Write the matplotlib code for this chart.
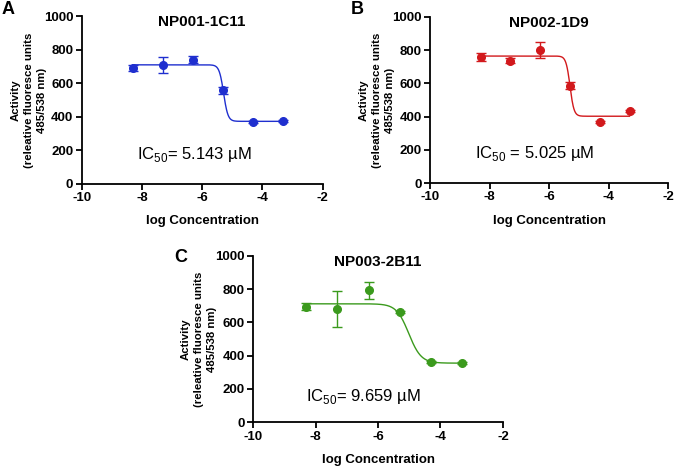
import numpy as np
import matplotlib.pyplot as plt

plt.rcParams['font.family'] = ['Liberation Sans', 'DejaVu Sans']
plt.rcParams['axes.unicode_minus'] = False
plt.rcParams['mathtext.fontset'] = 'custom'
plt.rcParams['mathtext.rm'] = 'Liberation Sans'

# log concentration (M) for every compound
log_conc = [-8.3, -7.3, -6.3, -5.3, -4.3, -3.3]

# NP001-1C11
act_a = [691, 710, 741, 558, 368, 376]
err_a = [15, 48, 20, 20, 6, 6]
fit_a = dict(top=710, bottom=372, logic50=np.log10(5.143e-6), hill=6.0)

# NP002-1D9
act_b = [760, 737, 800, 585, 366, 435]
err_b = [25, 16, 48, 20, 5, 5]
fit_b = dict(top=764, bottom=402, logic50=np.log10(5.025e-6), hill=6.5)

# NP003-2B11
act_c = [695, 680, 792, 660, 362, 355]
err_c = [20, 108, 50, 6, 6, 6]
fit_c = dict(top=712, bottom=355, logic50=np.log10(9.659e-6), hill=2.2)

titles = ['NP001-1C11', 'NP002-1D9', 'NP003-2B11']
letters = ['A', 'B', 'C']
ic50_text = ['IC$_{50}$= 5.143 µM', 'IC$_{50}$ = 5.025 µM', 'IC$_{50}$= 9.659 µM']
colors = ['#1f2fcf', '#d2191c', '#3b9a1d']
text_xy = [(-8.15, 175), (-8.5, 175), (-8.3, 155)]


def hill(x, top, bottom, logic50, hill):
    return bottom + (top - bottom) / (1 + 10 ** ((x - logic50) * hill))


fig = plt.figure(figsize=(6.75, 4.67), dpi=100)
positions = [
    [0.121, 0.607, 0.357, 0.358],
    [0.637, 0.608, 0.353, 0.356],
    [0.375, 0.096, 0.370, 0.356],
]
data = [(act_a, err_a, fit_a), (act_b, err_b, fit_b), (act_c, err_c, fit_c)]
letter_pos = [(0.002, 0.997), (0.52, 0.997), (0.258, 0.467)]

for i, pos in enumerate(positions):
    ax = fig.add_axes(pos)
    act, err, fit = data[i]
    col = colors[i]
    xs = np.linspace(-8.3, -3.3, 400)
    ax.plot(xs, hill(xs, **fit), color=col, lw=1.0)
    ax.errorbar(log_conc, act, yerr=err, fmt='o', color=col, ms=5.5,
                capsize=3.5, elinewidth=1.0, capthick=1.0)
    ax.set_xlim(-10, -2)
    ax.set_ylim(0, 1000)
    ax.set_xticks([-10, -8, -6, -4, -2])
    ax.set_yticks([0, 200, 400, 600, 800, 1000])
    for s in ['top', 'right']:
        ax.spines[s].set_visible(False)
    for s in ['left', 'bottom']:
        ax.spines[s].set_linewidth(1.3)
    ax.tick_params(width=1.3, length=4, labelsize=9.5, pad=2)
    for lab in ax.get_xticklabels() + ax.get_yticklabels():
        lab.set_fontweight('bold')
    ax.set_xlabel('log Concentration', fontsize=9.5, fontweight='bold', labelpad=8)
    ax.set_ylabel('Activity\n(releative fluoresce units\n485/538 nm)',
                  fontsize=8.2, fontweight='bold', linespacing=1.4)
    ax.yaxis.set_label_coords(-0.145, 0.5)
    ax.text(0.5, 0.965, titles[i], transform=ax.transAxes, ha='center',
            va='center', fontsize=11, fontweight='bold')
    ax.text(text_xy[i][0], text_xy[i][1], ic50_text[i], ha='left',
            va='center', fontsize=12)
    fig.text(letter_pos[i][0], letter_pos[i][1], letters[i], fontsize=13,
             fontweight='bold', va='top')

fig.savefig('out.png', dpi=100)
